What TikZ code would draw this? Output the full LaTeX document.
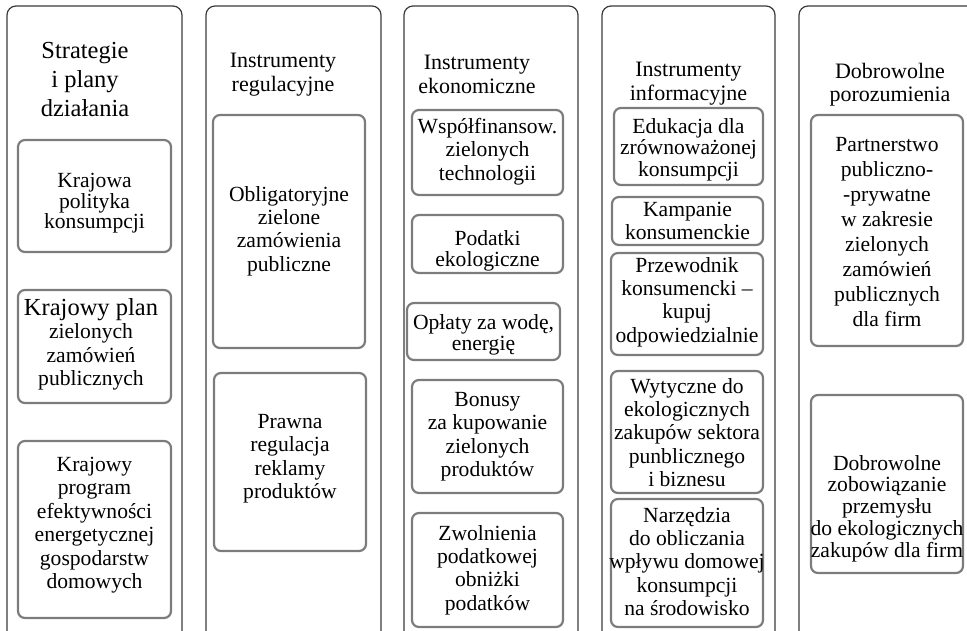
\documentclass[tikz,border=0pt]{standalone}
\usepackage{fontspec}
\setmainfont{Liberation Serif}
\usetikzlibrary{fit}
\definecolor{outerline}{HTML}{3A3A3A}
\definecolor{innerline}{HTML}{7C7C7C}
\tikzset{
  obox/.style={draw=outerline, line width=1.2pt, rounded corners=9pt, inner sep=0pt},
  ibox/.style={draw=innerline, line width=2.2pt, rounded corners=7pt, inner sep=0pt},
  ttl/.style={anchor=north, align=center, inner sep=0pt, font=\fontsize{22}{23.5}\selectfont},
  ttlbig/.style={anchor=north, align=center, inner sep=0pt, font=\fontsize{24.5}{29}\selectfont},
  itxt/.style={anchor=north, align=center, inner sep=0pt, font=\fontsize{21.6}{23.4}\selectfont},
  itxtwide/.style={anchor=north, align=center, inner sep=0pt, font=\fontsize{21.6}{25}\selectfont},
  itxttight/.style={anchor=north, align=center, inner sep=0pt, font=\fontsize{21.6}{19.5}\selectfont},
  itxtmid/.style={anchor=north, align=center, inner sep=0pt, font=\fontsize{21.6}{21.8}\selectfont}
}
\begin{document}
\begin{tikzpicture}[x=1pt,y=-1pt]
\clip (0,0) rectangle (967,630);
% outer columns
\node[obox, fit={(7,6) (182,640)}] (o1) {};
\node[obox, fit={(206,6) (381,640)}] (o2) {};
\node[obox, fit={(404,6) (578,640)}] (o3) {};
\node[obox, fit={(602,6) (775,640)}] (o4) {};
\node[obox, fit={(799,6) (990,640)}] (o5) {};
% titles
\node[ttlbig] (t1) at (85,42) {Strategie\\i plany\\działania};
\node[ttl] (t2) at (283,53) {Instrumenty\\regulacyjne};
\node[ttl] (t3) at (477,55) {Instrumenty\\ekonomiczne};
\node[ttl] (t4) at (688.5,62) {Instrumenty\\informacyjne};
\node[ttl] (t5) at (890,63) {Dobrowolne\\porozumienia};
% column 1
\node[ibox, fit={(18,140) (171,252)}] (b11) {};
\node[itxttight] (x11) at (94.5,173) {Krajowa\\polityka\\konsumpcji};
\node[ibox, fit={(18,290) (171,403)}] (b12) {};
\node[itxt] (x12) at (91,298) {{\fontsize{24.5}{25}\selectfont Krajowy plan}\\zielonych\\zamówień\\publicznych};
\node[ibox, fit={(18,441) (171,618)}] (b13) {};
\node[itxt] (x13) at (94.5,457) {Krajowy\\program\\efektywności\\energetycznej\\gospodarstw\\domowych};
% column 2
\node[ibox, fit={(213,115) (365,348)}] (b21) {};
\node[itxt] (x21) at (289,186) {Obligatoryjne\\zielone\\zamówienia\\publiczne};
\node[ibox, fit={(214,373) (366,551)}] (b22) {};
\node[itxt] (x22) at (290,414) {Prawna\\regulacja\\reklamy\\produktów};
% column 3
\node[ibox, fit={(412,110) (563,195)}] (b31) {};
\node[itxt] (x31) at (487.5,118) {Współfinansow.\\zielonych\\technologii};
\node[ibox, fit={(412,215) (563,273)}] (b32) {};
\node[itxtmid] (x32) at (487.5,230) {Podatki\\ekologiczne};
\node[ibox, fit={(407,303) (560,360)}] (b33) {};
\node[itxtmid] (x33) at (483.5,314) {Opłaty za wodę,\\energię};
\node[ibox, fit={(412,380) (563,493)}] (b34) {};
\node[itxt] (x34) at (487.5,392) {Bonusy\\za kupowanie\\zielonych\\produktów};
\node[ibox, fit={(412,513) (563,627)}] (b35) {};
\node[itxt] (x35) at (487.5,525) {Zwolnienia\\podatkowej\\obniżki\\podatków};
% column 4
\node[ibox, fit={(614,108) (763,185)}] (b41) {};
\node[itxtmid] (x41) at (688.5,118) {Edukacja dla\\zrównoważonej\\konsumpcji};
\node[ibox, fit={(612,197) (763,245)}] (b42) {};
\node[itxt] (x42) at (687.5,202) {Kampanie\\konsumenckie};
\node[ibox, fit={(611,253) (763,355)}] (b43) {};
\node[itxt] (x43) at (687,257) {Przewodnik\\konsumencki –\\kupuj\\odpowiedzialnie};
\node[ibox, fit={(611,371) (763,493)}] (b44) {};
\node[itxt] (x44) at (687,378) {Wytyczne do\\ekologicznych\\zakupów sektora\\punblicznego\\i biznesu};
\node[ibox, fit={(611,499) (763,627)}] (b45) {};
\node[itxt] (x45) at (687,507) {Narzędzia\\do obliczania\\wpływu domowej\\konsumpcji\\na środowisko};
% column 5
\node[ibox, fit={(811,115) (963,346)}] (b51) {};
\node[itxtwide] (x51) at (887,137) {Partnerstwo\\publiczno-\\-prywatne\\w zakresie\\zielonych\\zamówień\\publicznych\\dla firm};
\node[ibox, fit={(811,395) (963,573)}] (b52) {};
\node[itxtmid] (x52) at (887,455) {Dobrowolne\\zobowiązanie\\przemysłu\\do ekologicznych\\zakupów dla firm};
\end{tikzpicture}
\end{document}
